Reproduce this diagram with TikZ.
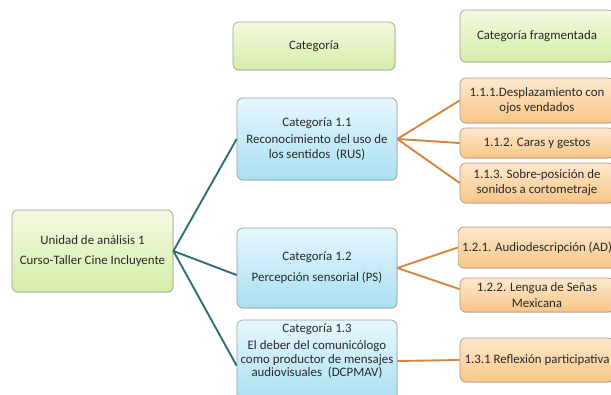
\documentclass[tikz,border=0pt]{standalone}
\usepackage{fontspec}
\setmainfont{Carlito}
\usetikzlibrary{shadows}
\definecolor{texto}{HTML}{2A2A2A}
\definecolor{verdeA}{HTML}{F3F9E0}
\definecolor{verdeB}{HTML}{D6EDA8}
\definecolor{azulA}{HTML}{E6F7FD}
\definecolor{azulB}{HTML}{A8DFF2}
\definecolor{narA}{HTML}{FDE8CC}
\definecolor{narB}{HTML}{F8C586}
\definecolor{linea1}{HTML}{2E6D76}
\definecolor{linea2}{HTML}{D3843E}

\begin{document}
\begin{tikzpicture}[x=0.03cm,y=-0.03cm,
    caja/.style={rounded corners=5pt,draw=gray!75,line width=0.6pt,
      text=texto,align=center,font=\fontsize{11}{13}\selectfont,
      drop shadow={opacity=0.25,shadow xshift=0.6pt,shadow yshift=-0.8pt}},
    verde/.style={caja,top color=verdeA,bottom color=verdeB},
    azul/.style={caja,top color=azulA,bottom color=azulB},
    naranja/.style={caja,top color=narA,bottom color=narB,draw=brown!50!gray!80},
    ramaA/.style={linea1,line width=1.6pt},
    ramaB/.style={linea2,line width=1.6pt}]
	%\draw[step=50,color=gray] (0,0) grid (611,395);
	\clip (0,0) rectangle (611,395);
	\fill[white] (0,0) rectangle (611,395);

	% encabezados
	\node[verde,minimum width=4.86cm,minimum height=1.44cm] (cat) at (314,46) {Categoría};
	\node[verde,minimum width=4.62cm,minimum height=1.56cm] (frag) at (537,36) {Categoría fragmentada};

	% unidad de analisis
	\node[verde,minimum width=4.83cm,minimum height=2.46cm] (uni) at (92.5,251)
		{Unidad de análisis 1\\[4pt]Curso-Taller Cine Incluyente};

	% categorias
	\node[azul,minimum width=4.8cm,minimum height=2.46cm] (c11) at (317,139)
		{Categoría 1.1\\[1pt]Reconocimiento del uso de\\los sentidos\ \ (RUS)};
	\node[azul,minimum width=4.8cm,minimum height=2.4cm] (c12) at (317,268)
		{Categoría 1.2\\[5pt]Percepción sensorial (PS)};
	\node[azul,minimum width=4.8cm,minimum height=2.46cm] (c13) at (317,361) {};
	\node[text=texto,align=center,font=\fontsize{11}{13}\selectfont] (c13t) at (317,351)
		{Categoría 1.3\\[2pt]El deber del comunicólogo\\[-1.5pt]como productor de mensajes\\[-1.5pt]audiovisuales\ \ (DCPMAV)};

	% categorias fragmentadas
	\node[naranja,minimum width=4.62cm,minimum height=1.35cm] (f111) at (537,100.5)
		{1.1.1.Desplazamiento con\\ojos vendados};
	\node[naranja,minimum width=4.62cm,minimum height=0.9cm] (f112) at (537,143) {1.1.2. Caras y gestos};
	\node[naranja,minimum width=4.62cm,minimum height=1.2cm] (f113) at (537,183)
		{1.1.3. Sobre-posición de\\sonidos a cortometraje};
	\node[naranja,minimum width=4.62cm,minimum height=1.23cm] (f121) at (537,247.5) {1.2.1. Audiodescripción (AD)};
	\node[naranja,minimum width=4.62cm,minimum height=1.02cm] (f122) at (537,295)
		{1.2.2. Lengua de Señas\\Mexicana};
	\node[naranja,minimum width=4.62cm,minimum height=1.32cm] (f131) at (537,360) {1.3.1 Reflexión participativa};

	% ramas
	\draw[ramaA] (uni.east) -- (c11.west);
	\draw[ramaA] (uni.east) -- ([yshift=-6pt]c12.west);
	\draw[ramaA] (uni.east) -- ([yshift=-4pt]c13.west);
	\draw[ramaB] (c11.east) -- (f111.west);
	\draw[ramaB] (c11.east) -- (f112.west);
	\draw[ramaB] (c11.east) -- (f113.west);
	\draw[ramaB] (c12.east) -- (f121.west);
	\draw[ramaB] (c12.east) -- ([yshift=5pt]f122.west);
	\draw[ramaB] (c13.east) -- (f131.west);
\end{tikzpicture}
\end{document}
